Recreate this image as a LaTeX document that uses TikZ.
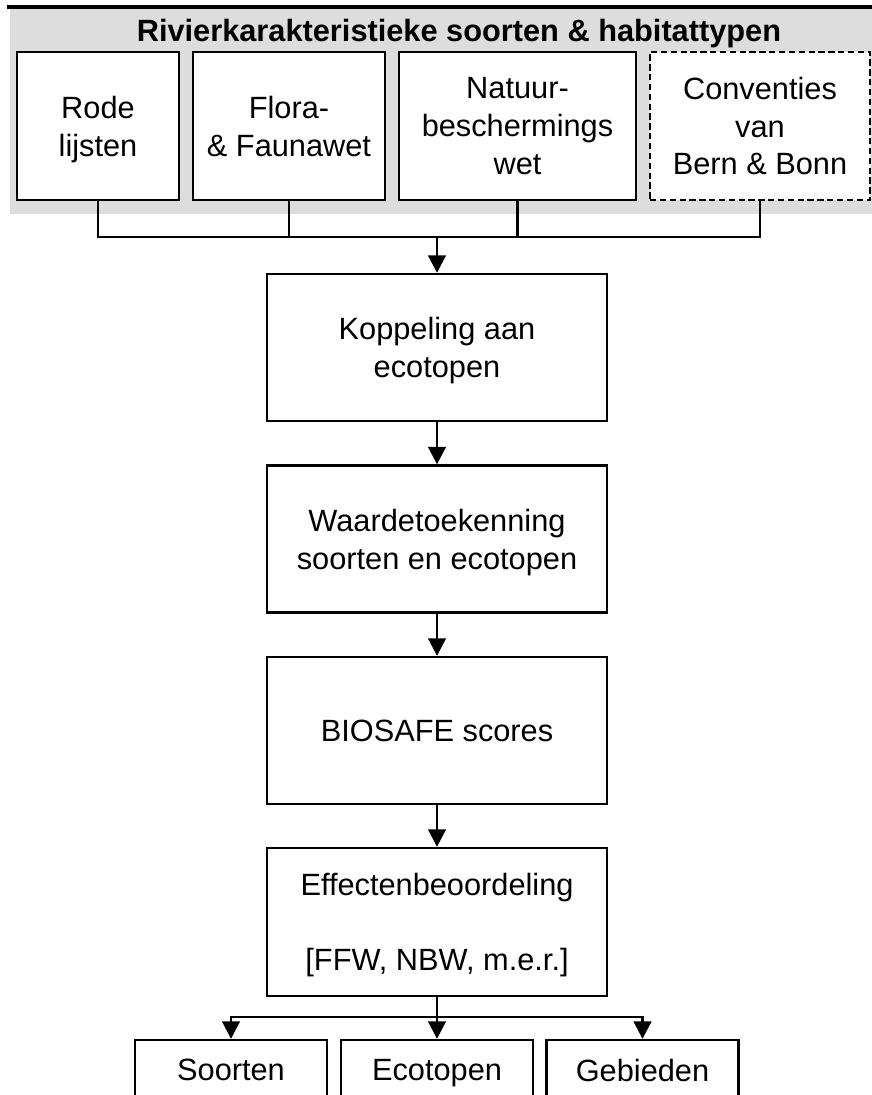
\documentclass[tikz,border=0pt]{standalone}
\usepackage{fontspec}
\setmainfont{Liberation Sans}
\usetikzlibrary{arrows.meta}
\definecolor{bandgray}{RGB}{221,221,221}
\newcommand\boxfont{\fontsize{17.5}{21.5}\selectfont}
\tikzset{
  box/.style={draw,line width=1.3pt,fill=white,inner sep=0pt,align=center,font=\boxfont},
  lines/.style={text depth=-1.5pt},
  srcbox/.style={box,lines,minimum height=2.96cm},
  stepbox/.style={box,minimum width=6.8cm,minimum height=2.94cm},
  outbox/.style={box,minimum width=3.84cm,minimum height=1.2cm,text depth=0pt},
  link/.style={line width=1.6pt},
  flow/.style={link,-{Triangle[length=10pt,width=10pt]}}
}
\begin{document}
\begin{tikzpicture}
\clip(0,0)rectangle(17.44,21.9);
% grey band with the sources
\fill[bandgray](0.2,17.62)rectangle(17.44,21.72);
\draw[line width=2.3pt](0.14,21.76)--(17.44,21.76);
\node[font=\boxfont\bfseries](title)at(9.18,21.23){Rivierkarakteristieke soorten \& habitattypen};
\node[srcbox,minimum width=3.24cm](rode)at(1.96,19.38){Rode\\lijsten};
\node[srcbox,minimum width=3.84cm](flora)at(5.78,19.38){Flora-\\\& Faunawet};
\node[srcbox,minimum width=4.74cm](nbw)at(10.35,19.38){Natuur-\\beschermings\\wet};
\node[srcbox,minimum width=4.4cm,dash pattern=on 3.6pt off 2pt](bern)at(15.2,19.38){Conventies\\van\\Bern \& Bonn};
% main column
\node[stepbox,lines](koppeling)at(8.74,14.95){Koppeling aan\\ecotopen};
\node[stepbox,lines](waarde)at(8.74,11.12){Waardetoekenning\\soorten en ecotopen};
\node[stepbox](biosafe)at(8.74,7.29){BIOSAFE scores};
\node[stepbox,lines,minimum height=2.96cm](effect)at(8.74,3.46){Effectenbeoordeling\\ \strut\\ {[FFW, NBW, m.e.r.]}};
\node[outbox](soorten)at(4.62,0.5){Soorten};
\node[outbox](ecotopen)at(8.74,0.5){Ecotopen};
\node[outbox](gebieden)at(12.85,0.5){Gebieden};
% connectors
\coordinate(join)at(8.74,17.16);
\coordinate(split)at(8.74,1.56);
\foreach \src in {rode,flora,nbw,bern}
  \draw[link](\src.south)|-(join);
\draw[flow](join)--(koppeling.north);
\draw[flow](koppeling)--(waarde);
\draw[flow](waarde)--(biosafe);
\draw[flow](biosafe)--(effect);
\draw[link](effect.south)--(split);
\draw[flow](split)-|(soorten.north);
\draw[flow](split)-|(gebieden.north);
\draw[flow](effect.south)--(ecotopen.north);
\end{tikzpicture}
\end{document}
